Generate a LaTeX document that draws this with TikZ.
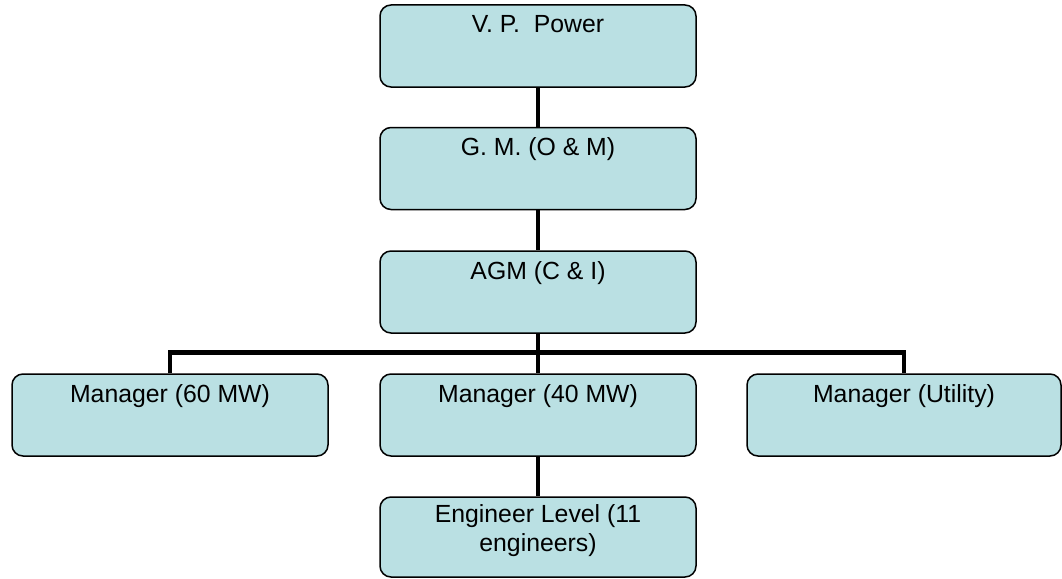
\documentclass[tikz,border=0pt]{standalone}
\usepackage{fontspec}
\setmainfont{Liberation Sans}
\definecolor{boxfill}{RGB}{186,224,227}
\tikzset{
  orgbox/.style={draw=black, fill=boxfill, line width=1.5pt, rounded corners=11pt,
    minimum width=316pt, minimum height=82pt, inner sep=0pt},
  orgtext/.style={anchor=base, align=center, inner sep=0pt,
    font=\fontsize{24.8pt}{29pt}\selectfont},
  link/.style={draw=black, line width=4.8pt}
}
\begin{document}
\begin{tikzpicture}[x=1pt,y=-1pt]
\useasboundingbox (0,0) rectangle (1062,578);

% boxes of the chart
\node[orgbox] (vp)  at (538,46)    {};
\node[orgbox] (gm)  at (538,168.5) {};
\node[orgbox] (agm) at (538,292)   {};
\node[orgbox] (m60) at (170,415) {};
\node[orgbox] (m40) at (538,415) {};
\node[orgbox, minimum width=314pt] (mut) at (904,415) {};
\node[orgbox, minimum height=80pt] (eng) at (538,537) {};

% reporting lines
\draw[link] (vp.south) -- (gm.north);
\draw[link] (gm.south) -- (agm.north);
\draw[link] (agm.south) -- (m40.north);
\draw[link] (m60.north) -- ++(0,-21) coordinate (barl) -| (mut.north);
\draw[link] (m40.south) -- (eng.north);

% titles (base anchor sits on the last line)
\node[orgtext] (tvp)  at ([yshift=-28pt]vp.north)  {V.\ P.\ \ Power};
\node[orgtext] (tgm)  at ([yshift=-29pt]gm.north)  {G.\ M.\ (O \& M)};
\node[orgtext] (tagm) at ([yshift=-29pt]agm.north) {AGM (C \& I)};
\node[orgtext] (t60)  at ([yshift=-29pt]m60.north) {Manager (60 MW)};
\node[orgtext] (t40)  at ([yshift=-29pt]m40.north) {Manager (40 MW)};
\node[orgtext] (tut)  at ([yshift=-29pt]mut.north) {Manager (Utility)};
\node[orgtext] (teng) at ([yshift=-55pt]eng.north) {Engineer Level (11\\engineers)};
\end{tikzpicture}
\end{document}
